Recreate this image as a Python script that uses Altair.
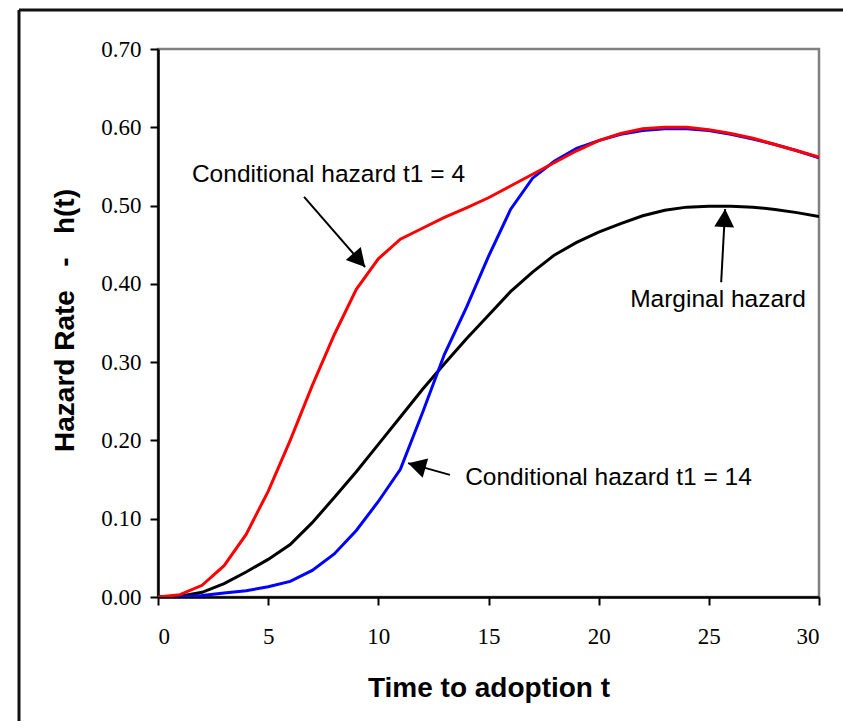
import altair as alt
import pandas as pd

# ---- data ----
t_values = list(range(0, 31))
cond_t1_4 = [0, 0.003, 0.015, 0.04, 0.08, 0.135, 0.20, 0.27, 0.335, 0.393, 0.432, 0.457, 0.471,
             0.485, 0.497, 0.51, 0.525, 0.54, 0.555, 0.57, 0.583, 0.592, 0.598, 0.60, 0.60,
             0.597, 0.592, 0.586, 0.578, 0.57, 0.562]
cond_t1_14 = [0, 0.0, 0.002, 0.005, 0.008, 0.013, 0.02, 0.034, 0.055, 0.085, 0.122, 0.163,
              0.235, 0.31, 0.37, 0.435, 0.495, 0.535, 0.557, 0.573, 0.583, 0.591, 0.596,
              0.598, 0.598, 0.596, 0.591, 0.585, 0.578, 0.57, 0.561]
marginal = [0, 0.001, 0.006, 0.017, 0.032, 0.048, 0.067, 0.095, 0.127, 0.16, 0.195, 0.23,
            0.265, 0.298, 0.33, 0.36, 0.39, 0.415, 0.437, 0.453, 0.466, 0.477, 0.487, 0.494,
            0.498, 0.499, 0.499, 0.498, 0.495, 0.491, 0.486]

series_names = ["Marginal hazard", "Conditional hazard t1 = 14", "Conditional hazard t1 = 4"]
series_colors = ["#000000", "#0000FF", "#FF0000"]

x_ticks = [0, 5, 10, 15, 20, 25, 30]
y_ticks = [0.0, 0.1, 0.2, 0.3, 0.4, 0.5, 0.6, 0.7]

NB = "\u00a0"
x_title = "Time to adoption t"
y_title = "Hazard Rate" + NB * 3 + "-" + NB * 3 + "h(t)"

label_texts = ["Conditional hazard t1 = 4", "Conditional hazard t1 = 14", "Marginal hazard"]
label_x = [1.54, 13.94, 21.43]
label_y = [0.539, 0.152, 0.379]

arrow_x1 = [6.63, 13.25, 25.56]
arrow_y1 = [0.511, 0.156, 0.402]
arrow_x2 = [9.40, 11.35, 25.74]
arrow_y2 = [0.4215, 0.171, 0.4956]
arrow_angle = [139, 286, 3]

W, H = 661, 548
PAD_L, PAD_T, PAD_R, PAD_B = 158, 49, 24, 124

rows = []
for name, vals in zip(series_names, [marginal, cond_t1_14, cond_t1_4]):
    for t, v in zip(t_values, vals):
        rows.append({"t": t, "h": v, "series": name})
df = pd.DataFrame(rows)

xscale = alt.Scale(domain=[0, 30], nice=False, zero=False)
yscale = alt.Scale(domain=[0, 0.7], nice=False)

xaxis = alt.Axis(values=x_ticks, title=x_title, grid=False,
                 labelFont="Liberation Serif", labelFontSize=23, labelColor="black",
                 labelPadding=20, tickSize=8, tickColor="black", tickWidth=2,
                 domainColor="black", domainWidth=2.5,
                 titleFont="Liberation Sans", titleFontSize=28, titleFontWeight="bold",
                 titleColor="black", titleX=W / 2, titleY=99, titleBaseline="alphabetic",
                 titleAlign="center")
yaxis = alt.Axis(values=y_ticks, format=".2f", title=y_title, grid=False,
                 labelFont="Liberation Serif", labelFontSize=23, labelColor="black",
                 labelPadding=9, tickSize=8, tickColor="black", tickWidth=2,
                 domainColor="black", domainWidth=2.5,
                 titleFont="Liberation Sans", titleFontSize=28, titleFontWeight="bold",
                 titleColor="black", titleX=-93, titleY=H / 2 - 3, titleAngle=-90,
                 titleBaseline="middle", titleAlign="center")

lines = alt.Chart(df).mark_line(strokeWidth=3, clip=True).encode(
    x=alt.X("t:Q", scale=xscale, axis=xaxis),
    y=alt.Y("h:Q", scale=yscale, axis=yaxis),
    color=alt.Color("series:N", scale=alt.Scale(domain=series_names, range=series_colors),
                    legend=None),
    order=alt.Order("t:Q"),
    detail="series:N",
)

lab_df = pd.DataFrame({"x": label_x, "y": label_y, "text": label_texts})
labels = alt.Chart(lab_df).mark_text(align="left", baseline="middle", font="Liberation Sans",
                                     fontSize=24.5, color="black").encode(
    x=alt.X("x:Q", scale=xscale), y=alt.Y("y:Q", scale=yscale), text="text:N")

arr_df = pd.DataFrame({"x1": arrow_x1, "y1": arrow_y1, "x2": arrow_x2, "y2": arrow_y2,
                       "angle": arrow_angle})
shafts = alt.Chart(arr_df).mark_rule(color="black", strokeWidth=2).encode(
    x=alt.X("x1:Q", scale=xscale), y=alt.Y("y1:Q", scale=yscale),
    x2="x2:Q", y2="y2:Q")
heads = alt.Chart(arr_df).mark_point(shape="M0,0L-0.55,1L0.55,1Z", filled=True, size=1300,
                                     color="black", opacity=1).encode(
    x=alt.X("x2:Q", scale=xscale), y=alt.Y("y2:Q", scale=yscale),
    angle=alt.Angle("angle:Q", scale=None))

# outer frame of the figure (top and left edges; the rest lies outside the picture)
one = pd.DataFrame({"a": [0]})
border_top = alt.Chart(one).mark_rule(color="#111111", strokeWidth=3).encode(
    x=alt.value(19 - PAD_L), x2=alt.value(W + PAD_R), y=alt.value(10 - PAD_T))
border_left = alt.Chart(one).mark_rule(color="#111111", strokeWidth=3).encode(
    x=alt.value(19 - PAD_L), y=alt.value(10 - PAD_T), y2=alt.value(H + PAD_B))

chart = alt.layer(border_top, border_left, lines, shafts, heads, labels).properties(
    width=W, height=H,
    autosize=alt.AutoSizeParams(type="none"),
    padding={"left": PAD_L, "top": PAD_T, "right": PAD_R, "bottom": PAD_B},
    background="white",
).configure_view(stroke="#808080", strokeWidth=2.5)

chart.save("out.html", embed_options={"renderer": "svg", "actions": False})
